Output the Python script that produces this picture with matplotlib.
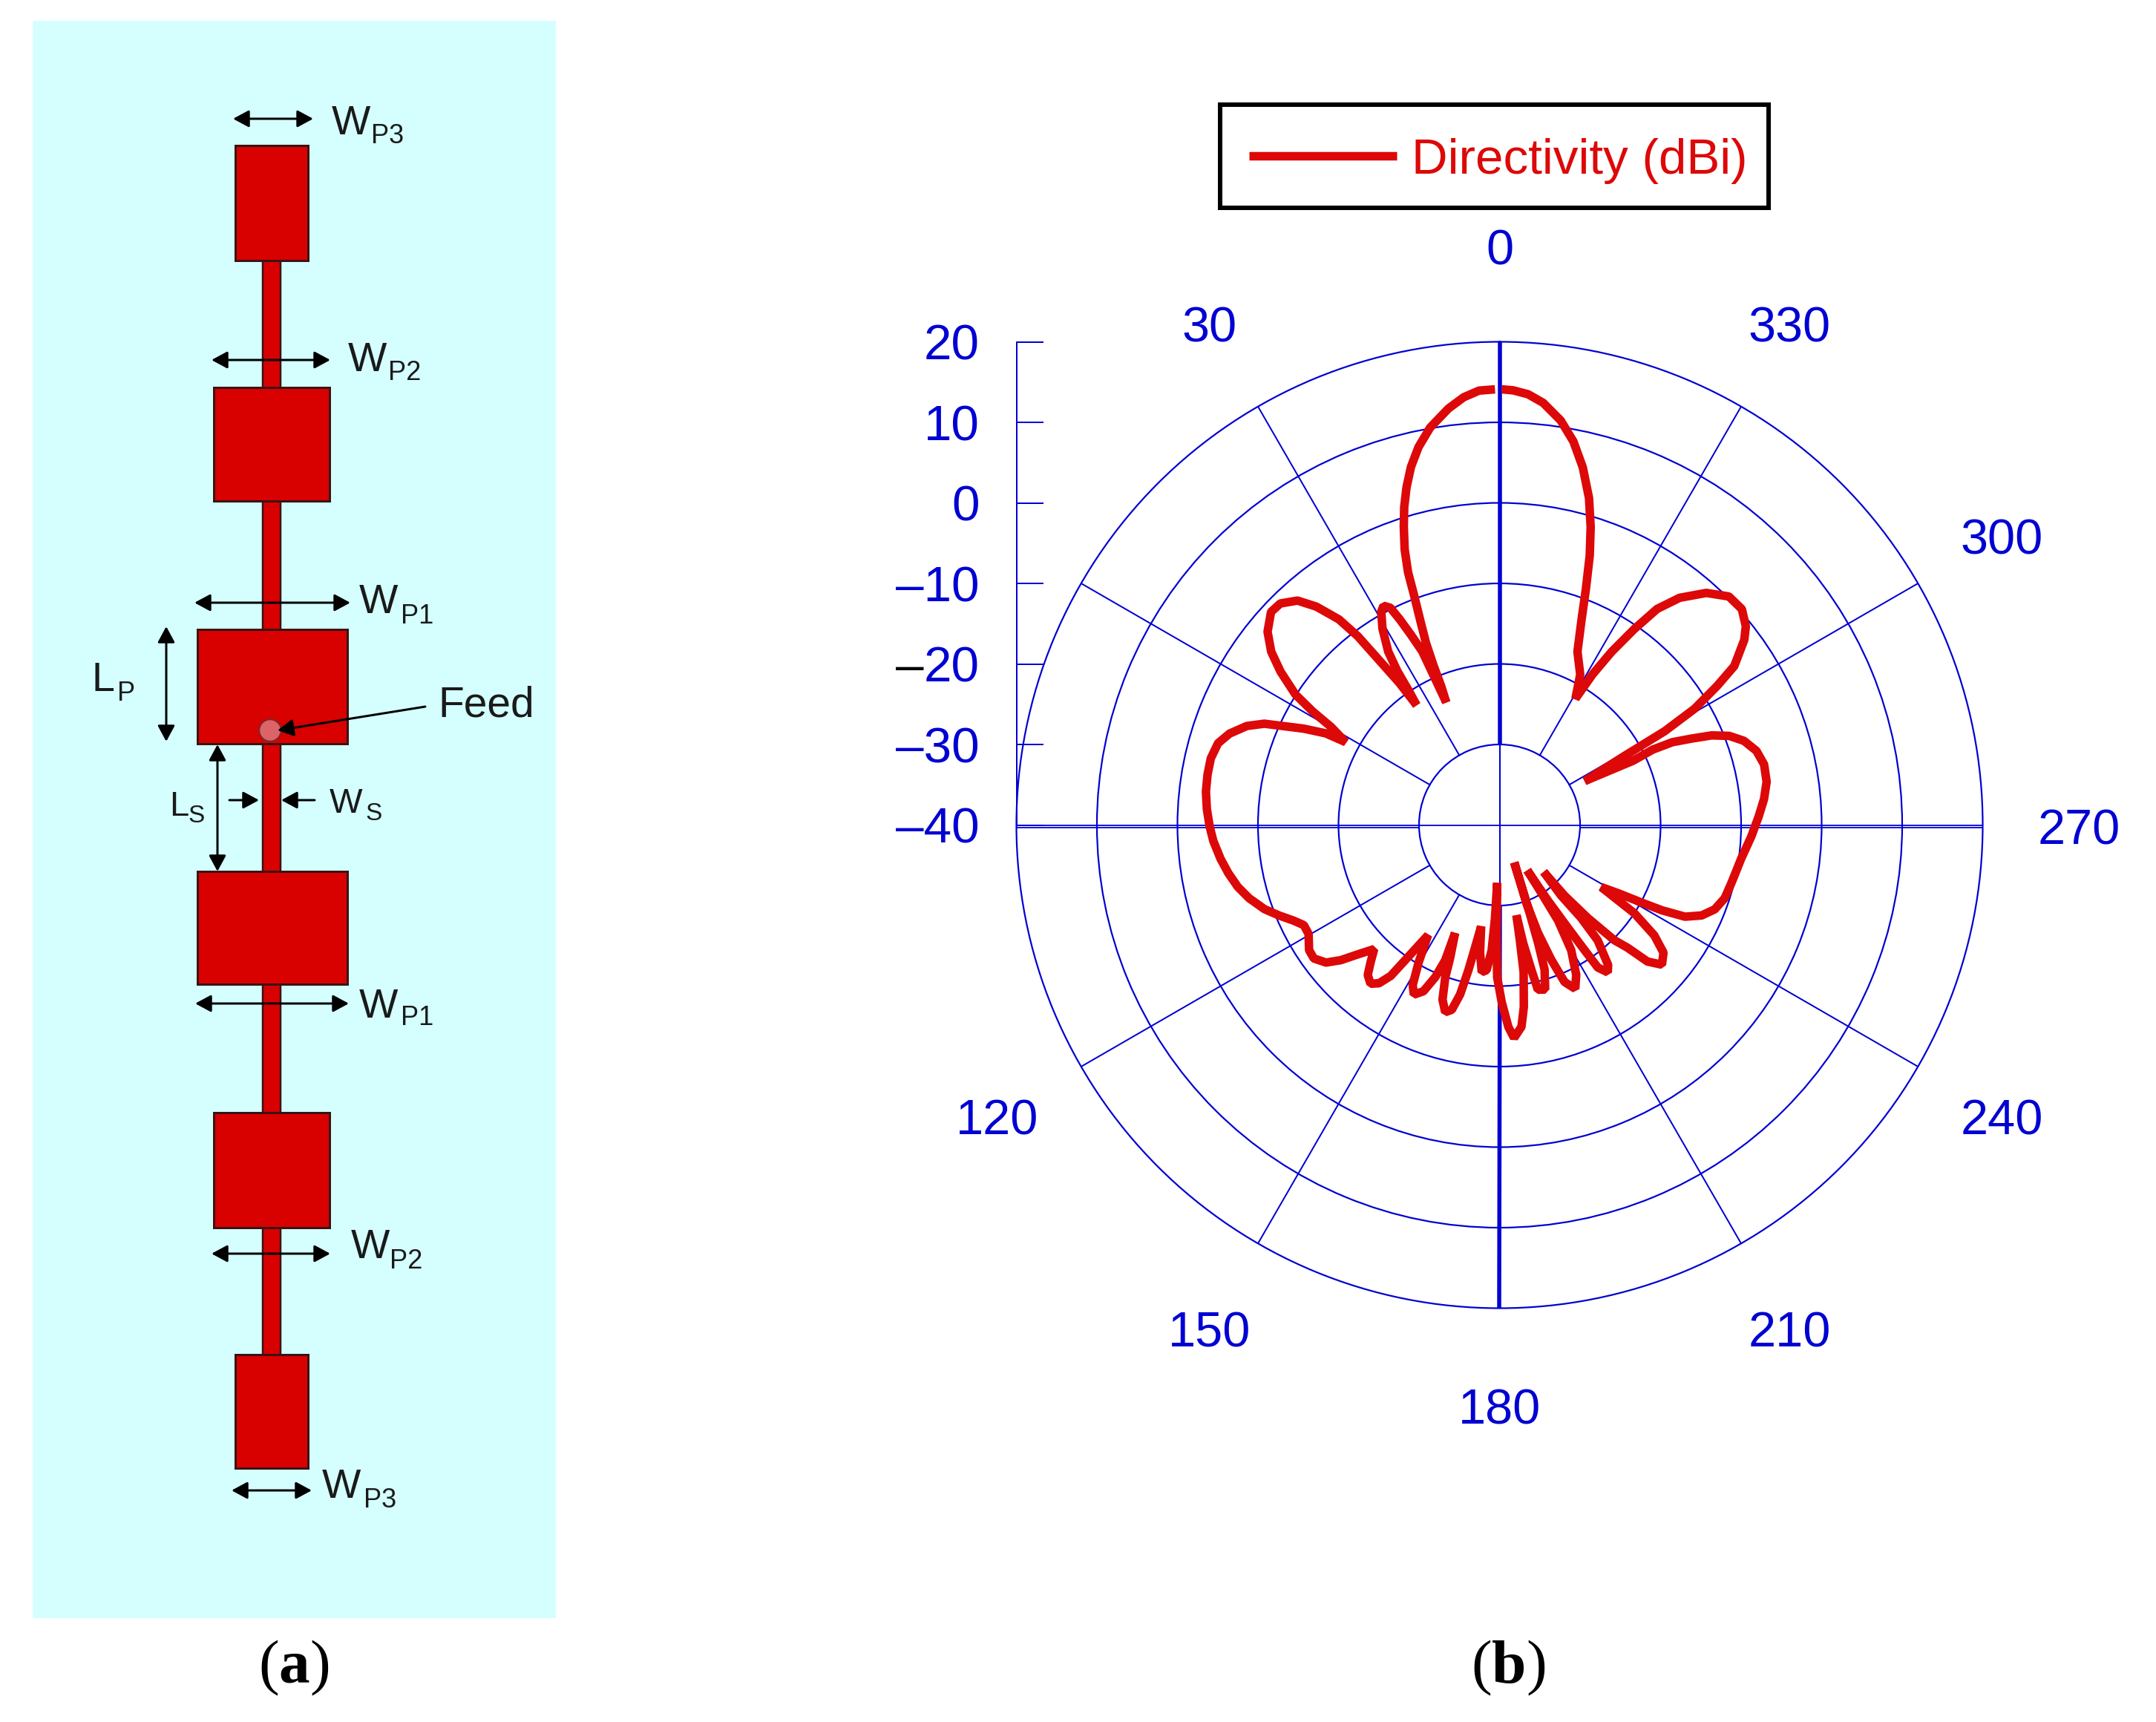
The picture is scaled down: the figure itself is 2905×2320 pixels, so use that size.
import numpy as np
import matplotlib
matplotlib.use('Agg')
import matplotlib.pyplot as plt
from matplotlib.patches import Rectangle, Circle
from matplotlib.transforms import offset_copy

plt.rcParams['font.family'] = ['Liberation Sans', 'DejaVu Sans']
plt.rcParams['mathtext.fontset'] = 'custom'
plt.rcParams['mathtext.bf'] = 'Liberation Serif:bold'
plt.rcParams['mathtext.rm'] = 'Liberation Serif'

# directivity pattern, (angle in deg, level in dBi)
angle_deg = [0.6, 2.7, 4.8, 7.0, 9.9, 12.1, 13.9, 15.4, 16.7, 17.8, 19.0, 19.9, 20.4, 21.2, 22.0, 22.5,
             22.8, 23.5, 24.0, 25.0, 25.9, 26.7, 27.9, 29.0, 30.8, 32.7, 33.6, 34.1, 34.7, 35.2, 36.1, 36.9,
             38.0, 40.0, 42.0, 44.7, 47.0, 50.2, 52.8, 55.0, 57.4, 58.7, 59.8, 61.7, 62.2, 63.8, 65.4, 66.7,
             68.6, 71.3, 73.8, 77.0, 80.2, 83.5, 86.9, 90.3, 93.2, 96.9, 100.1, 103.3, 106.3, 109.7, 112.3, 114.9,
             117.1, 119.7, 123.3, 125.7, 128.4, 130.4, 132.1, 134.7, 136.8, 138.7, 140.9, 142.7, 144.2, 145.1, 147.0, 149.5,
             151.5, 153.2, 155.4, 157.1, 158.1, 157.6, 159.6, 160.4, 161.9, 163.8, 165.5, 166.9, 167.9, 168.7, 169.7, 171.3,
             173.1, 174.9, 176.4, 177.2, 177.7, 178.4, 179.1, 180.7, 182.5, 183.9, 186.2, 187.6, 189.3, 190.0, 190.6, 191.3,
             192.4, 193.1, 195.5, 197.3, 198.1, 198.9, 199.8, 201.4, 199.0, 199.6, 201.0, 202.5, 204.8, 207.1, 209.8, 211.5,
             211.6, 211.5, 212.6, 213.6, 214.2, 214.6, 216.3, 217.8, 220.4, 221.3, 221.1, 223.3, 222.6, 223.5, 224.9, 226.2,
             227.3, 229.3, 232.1, 234.5, 236.8, 238.6, 240.1, 241.4, 242.3, 243.7, 245.9, 248.6, 252.0, 256.2, 262.1, 267.4,
             271.9, 275.6, 279.2, 282.9, 286.1, 289.0, 291.2, 292.9, 294.2, 295.6, 296.2, 295.7, 297.3, 298.9, 299.6, 300.8,
             302.6, 304.1, 307.1, 308.9, 311.7, 314.9, 318.3, 321.6, 323.9, 325.5, 327.1, 328.3, 329.0, 331.8, 335.8, 338.2,
             339.9, 341.5, 343.0, 344.7, 346.9, 349.1, 351.4, 354.1, 356.2, 358.2, 359.7]
directivity = [14.1, 14.0, 13.3, 12.1, 10.1, 8.0, 5.8, 3.5, 1.2, -1.1, -3.8, -6.6, -9.5, -12.8, -15.6, -18.6,
               -21.3, -23.4, -16.4, -13.9, -11.6, -9.8, -9.2, -9.7, -11.6, -14.4, -17.1, -20.0, -21.9, -18.4, -14.9, -10.7,
               -7.6, -4.6, -2.5, -1.3, -1.2, -2.5, -4.4, -6.8, -9.9, -12.8, -15.8, -18.3, -15.6, -12.9, -10.5, -8.2,
               -6.3, -4.6, -3.6, -3.2, -3.2, -3.3, -3.6, -4.0, -4.4, -5.1, -5.8, -6.6, -7.6, -9.0, -10.4, -11.8,
               -12.7, -12.7, -11.7, -11.6, -12.5, -14.1, -15.9, -18.1, -16.6, -15.2, -14.6, -15.3, -16.9, -19.6, -23.7, -20.2,
               -17.4, -16.4, -17.3, -19.5, -21.9, -25.5, -22.4, -19.9, -17.2, -15.8, -16.3, -18.4, -21.6, -24.5, -27.2, -24.0,
               -21.6, -21.9, -24.4, -28.4, -32.8, -26.6, -21.1, -18.0, -14.9, -13.5, -14.8, -17.2, -21.5, -25.5, -28.6, -25.1,
               -21.6, -19.0, -18.8, -21.2, -24.6, -28.5, -32.0, -35.0, -29.7, -25.8, -22.1, -18.9, -17.6, -19.1, -22.1, -26.1,
               -29.7, -33.4, -28.9, -24.7, -21.2, -18.5, -17.3, -18.0, -21.2, -24.7, -28.4, -32.0, -28.1, -24.1, -19.8, -18.0,
               -15.0, -13.4, -14.2, -16.4, -20.0, -25.2, -23.0, -19.8, -17.2, -14.3, -12.5, -11.3, -10.6, -10.3, -9.7, -8.7,
               -7.8, -7.0, -6.4, -6.3, -6.8, -7.9, -9.4, -11.4, -13.8, -16.2, -18.8, -21.6, -28.1, -22.5, -16.4, -11.8,
               -7.9, -4.8, -1.9, -0.7, 0.3, 0.2, -1.4, -4.0, -6.8, -10.5, -14.4, -18.0, -21.7, -18.8, -16.4, -12.6,
               -8.8, -4.7, -1.3, 2.1, 5.6, 8.5, 10.8, 12.7, 13.6, 14.0, 14.1]
rad_ticks = [-40, -30, -20, -10, 0, 10, 20]
# the dash of -20 is black in the original, it is added separately below
rad_labels = ['–40', '–30', '20', '–10', '0', '10', '20']
ang_ticks = [0, 30, 120, 150, 180, 210, 240, 270, 300, 330]
spokes = [30, 60, 120, 150, 210, 240, 300, 330]

W, H = 2905, 2320
cx, cy, R = 2020.5, 1111.5, 651
BLUE = '#0000D2'
RED = '#DD0808'
PATCH = '#D90000'
EDGE = '#3A1414'
INK = '#1A1A1A'
px = 0.72  # 1 pixel in points at dpi 100

fig = plt.figure(figsize=(W / 100, H / 100), dpi=100, facecolor='white')

# panel (a), drawn in pixel units
pa = fig.add_axes([0, 0, 1, 1])
pa.set_xlim(0, W)
pa.set_ylim(H, 0)
pa.axis('off')
pa.add_patch(Rectangle((44, 28), 705, 2152, fc='#D5FFFF', ec='none'))
pa.add_patch(Rectangle((354, 345), 24, 1485, fc=PATCH, ec=EDGE, lw=2.5 * px))
# left, top, width, height
patches = [(317, 196, 98, 155), (288, 522, 156, 153), (266, 848, 202, 154),
           (266, 1174, 202, 152), (288, 1499, 156, 155), (317, 1825, 98, 153)]
for x, y, w, h in patches:
    pa.add_patch(Rectangle((x, y), w, h, fc=PATCH, ec=EDGE, lw=3 * px))
pa.add_patch(Circle((364, 984), 15, fc='#DA6468', ec='#8E2020', lw=2.5 * px))


def arrow(x0, y0, x1, y1, style='<|-|>'):
    pa.annotate('', xy=(x1, y1), xytext=(x0, y0),
                arrowprops=dict(arrowstyle=style + ',head_length=13,head_width=7', mutation_scale=1,
                                shrinkA=0, shrinkB=0, lw=3 * px, color='black'))


def dim_label(x, base, main, xsub, basesub, sub, size=40, subsize=26):
    pa.text(x, base, main, fontsize=size, color=INK, va='baseline', ha='left')
    pa.text(xsub, basesub, sub, fontsize=subsize, color=INK, va='baseline', ha='left')


arrow(314, 160, 422, 160)
arrow(285, 485, 445, 485)
arrow(262, 812, 472, 812)
arrow(224, 844, 224, 999)
arrow(293, 1003, 293, 1174)
arrow(263, 1352, 470, 1352)
arrow(285, 1689, 445, 1689)
arrow(312, 2008, 420, 2008)
arrow(309, 1078, 349, 1078, '-|>')
arrow(424, 1078, 379, 1078, '-|>')
arrow(573, 952, 374, 984, '-|>')

dim_label(447, 181, 'W', 500, 193, 'P3')
dim_label(469, 500, 'W', 523, 512, 'P2')
dim_label(484, 826, 'W', 540, 840, 'P1')
dim_label(124, 931, 'L', 158, 944, 'P')
dim_label(228, 1099, 'L', 253, 1108, 'S', size=34, subsize=24)
dim_label(444, 1095, 'W', 492, 1105, 'S', size=34, subsize=24)
dim_label(484, 1371, 'W', 540, 1381, 'P1')
dim_label(473, 1695, 'W', 525, 1709, 'P2')
dim_label(434, 2018, 'W', 490, 2031, 'P3')
pa.text(590, 966, 'Feed', fontsize=41, color=INK, va='baseline', ha='left')
pa.text(395.6, 2267, r'($\mathbf{a}$)', fontsize=60, family='Liberation Serif', ha='center', va='baseline', color='black')
pa.text(2032, 2267, r'($\mathbf{b}$)', fontsize=60, family='Liberation Serif', ha='center', va='baseline', color='black')
# legend frame, the legend itself sits off centre inside it
pa.add_patch(Rectangle((1644, 141), 739, 139, fc='white', ec='black', lw=6 * px))

# panel (b), polar plot
ax = fig.add_axes([(cx - R) / W, 1 - (cy + R) / H, 2 * R / W, 2 * R / H], projection='polar')
ax.patch.set_alpha(0)
ax.set_theta_zero_location('N')
ax.set_theta_direction(1)
ax.set_rlim(-40, 20)
ax.set_xticks([])
ax.set_rgrids([-30, -20, -10, 0, 10], labels=[])
ax.yaxis.grid(True, color=BLUE, lw=2.2 * px)
ax.xaxis.grid(False)
ax.spines['polar'].set_edgecolor(BLUE)
ax.spines['polar'].set_linewidth(2.2 * px)
ax.tick_params(left=False, right=False)
for s in spokes:
    ax.plot(np.radians([s, s]), [-30, 20], color=BLUE, lw=2 * px, zorder=2)
# 0-180 axis: thin inside the inner ring, heavy outside it
ax.plot(np.radians([0, 0]), [-30, 20], color=BLUE, lw=5.5 * px, zorder=2, solid_capstyle='butt')
ax.plot(np.radians([180, 180]), [-30, 20], color=BLUE, lw=5.5 * px, zorder=2, solid_capstyle='butt')
ax.plot(np.radians([0, 0]), [-40, -30], color=BLUE, lw=2 * px, zorder=2)
ax.plot(np.radians([180, 180]), [-40, -30], color=BLUE, lw=2 * px, zorder=2)
# 90-270 axis: doubled outside the inner ring
low = offset_copy(ax.transData, fig=fig, y=-3, units='dots')
for t in (90, 270):
    ax.plot(np.radians([t, t]), [-40, 20], color=BLUE, lw=1.8 * px, zorder=2)
    ax.plot(np.radians([t, t]), [-30, 20], color=BLUE, lw=1.8 * px, zorder=2, transform=low)
line, = ax.plot(np.radians(angle_deg), directivity, color=RED, lw=11.5 * px, zorder=5,
                solid_joinstyle='bevel', solid_capstyle='butt', label='Directivity (dBi)')
ax.set_rlim(-40, 20)
lab = offset_copy(ax.transData, fig=fig, y=-9, units='dots')
for t in ang_ticks:
    ax.text(np.radians(t), 32, str(t), color=BLUE, fontsize=48, ha='center', va='center', clip_on=False, transform=lab)

leg = ax.legend(handles=[line], loc='center', bbox_to_anchor=(2018.5 / W, 1 - 217 / H),
                bbox_transform=fig.transFigure, fontsize=48.5, labelcolor=RED, frameon=False,
                handlelength=2.95, handletextpad=0.3, borderpad=0.55, borderaxespad=0)

# radial scale at the left of the circle
sc = fig.add_axes([(cx - R) / W, 1 - cy / H, 36 / W, R / H])
sc.patch.set_alpha(0)
sc.set_ylim(-40, 20)
sc.set_xticks([])
sc.set_yticks(rad_ticks)
sc.set_yticklabels(rad_labels, color=BLUE, fontsize=48.5)
sc.tick_params(axis='y', direction='in', length=36 * px, width=2 * px, color=BLUE, pad=50 * px)
for k in ('top', 'right', 'bottom'):
    sc.spines[k].set_visible(False)
sc.spines['left'].set_color(BLUE)
sc.spines['left'].set_linewidth(2 * px)
pa.text(1207, 918, '–', fontsize=48.5, color='black', va='baseline', ha='left', zorder=10)

fig.savefig('out.png', dpi=100)
